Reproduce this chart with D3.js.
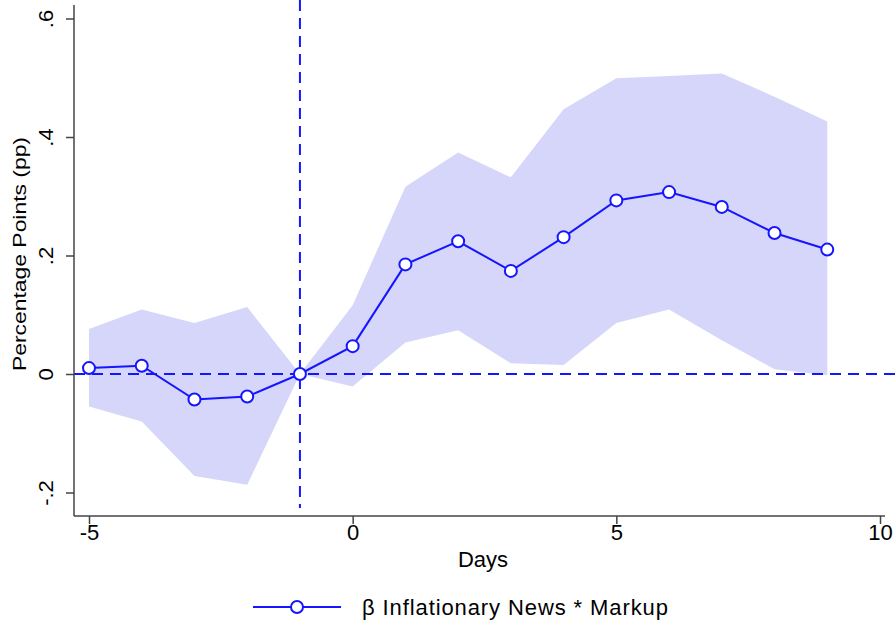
<!DOCTYPE html>
<html><head><meta charset="utf-8">
<script src="https://cdn.jsdelivr.net/npm/d3@7"></script>
<style>body{margin:0;background:#fff}svg{display:block}text{font-family:"Liberation Sans",Arial,sans-serif}</style>
</head><body><svg id="c" width="896" height="628"></svg>
<script>
const days = [-5,-4,-3,-2,-1,0,1,2,3,4,5,6,7,8,9];
const beta = [0.010,0.014,-0.043,-0.038,0,0.047,0.185,0.224,0.174,0.231,0.293,0.307,0.282,0.238,0.210];
const upper = [0.076,0.109,0.086,0.113,0,0.116,0.316,0.374,0.332,0.447,0.499,0.503,0.507,0.468,0.426];
const lower = [-0.055,-0.080,-0.172,-0.187,0,-0.021,0.053,0.074,0.018,0.015,0.086,0.109,0.057,0.008,-0.002];
const xTicks = [-5,0,5,10];
const xTickLabels = ["-5","0","5","10"];
const yTicks = [-0.2,0,0.2,0.4,0.6];
const yTickLabels = ["-.2","0",".2",".4",".6"];
const eventDay = -1;
const seriesName = "β Inflationary News * Markup";

const svg = d3.select("#c");
const x = d3.scaleLinear().domain([-5,10]).range([89,880]);
const y = d3.scaleLinear().domain([-0.2,0.6]).range([492.5,18.5]);
const blue = "#1515ff", band = "#d6d6fa", axCol = "#444";
const axL = 74, axB = 516, axR = 885, axT = 5;
const fs = 22;

const data = days.map((d,i)=>({d, b:beta[i], u:upper[i], l:lower[i]}));

svg.append("path").datum(data)
  .attr("d", d3.area().x(p=>x(p.d)).y0(p=>y(p.l)).y1(p=>y(p.u)))
  .attr("fill", band);

// reference lines
svg.append("line").attr("x1",axL).attr("x2",896).attr("y1",y(0)).attr("y2",y(0))
  .attr("stroke",blue).attr("stroke-width",2).attr("stroke-dasharray","11,7");
svg.append("line").attr("x1",x(eventDay)).attr("x2",x(eventDay)).attr("y1",0).attr("y2",axB-8)
  .attr("stroke",blue).attr("stroke-width",2).attr("stroke-dasharray","11,7");

// series
svg.append("path").datum(data)
  .attr("d", d3.line().x(p=>x(p.d)).y(p=>y(p.b)))
  .attr("fill","none").attr("stroke",blue).attr("stroke-width",2);
svg.selectAll("circle.pt").data(data).enter().append("circle").attr("class","pt")
  .attr("cx",p=>x(p.d)).attr("cy",p=>y(p.b)).attr("r",6)
  .attr("fill","#fff").attr("stroke",blue).attr("stroke-width",2);

// axes
const yAx = svg.append("g").attr("transform",`translate(${axL},0)`)
  .call(d3.axisLeft(y).tickValues(yTicks).tickSize(8).tickSizeOuter(0).tickFormat((d,i)=>yTickLabels[i]));
yAx.select(".domain").remove();
yAx.selectAll(".tick line").attr("stroke",axCol).attr("stroke-width",1.5);
yAx.selectAll(".tick text").attr("font-size",fs).attr("fill","#000")
  .attr("transform","translate(-21,0) rotate(-90) scale(1,0.88)").attr("text-anchor","middle")
  .attr("x",0).attr("dy",0).attr("y",0);
svg.append("line").attr("x1",axL).attr("x2",axL).attr("y1",axT).attr("y2",axB).attr("stroke",axCol).attr("stroke-width",1.5);

const xAx = svg.append("g").attr("transform",`translate(0,${axB})`)
  .call(d3.axisBottom(x).tickValues(xTicks).tickSize(8).tickSizeOuter(0).tickFormat((d,i)=>xTickLabels[i]));
xAx.select(".domain").remove();
xAx.selectAll(".tick line").attr("stroke",axCol).attr("stroke-width",1.5);
xAx.selectAll(".tick text").attr("font-size",fs).attr("fill","#000").attr("y",0).attr("dy",24);
svg.append("line").attr("x1",axL).attr("x2",axR).attr("y1",axB).attr("y2",axB).attr("stroke",axCol).attr("stroke-width",1.5);

svg.append("text").attr("x",483).attr("y",567).attr("text-anchor","middle")
  .attr("font-size",fs).text("Days");
svg.append("text").attr("transform",`translate(26,254) rotate(-90) scale(1.04,0.8)`)
  .attr("text-anchor","middle").attr("font-size",fs).text("Percentage Points (pp)");

// legend
const lg = svg.append("g").attr("transform","translate(0,607)");
lg.append("line").attr("x1",253).attr("x2",341).attr("y1",0).attr("y2",0).attr("stroke",blue).attr("stroke-width",2);
lg.append("circle").attr("cx",297).attr("cy",0).attr("r",6).attr("fill","#fff").attr("stroke",blue).attr("stroke-width",2);
lg.append("text").attr("x",362).attr("y",8).attr("font-size",fs).attr("letter-spacing",0.9).text(seriesName);
</script></body></html>
